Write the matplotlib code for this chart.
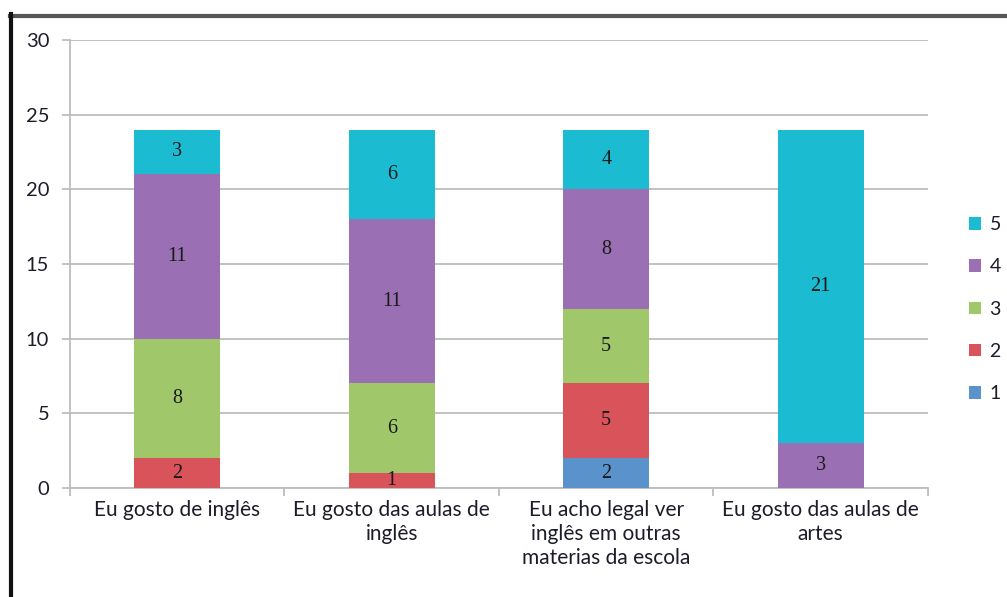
import numpy as np
import matplotlib.pyplot as plt
from matplotlib.lines import Line2D

# answers per statement, stacked from score 1 up to score 5
categories = ['Eu gosto de inglês', 'Eu gosto das aulas de\ninglês',
              'Eu acho legal ver\ninglês em outras\nmaterias da escola',
              'Eu gosto das aulas de\nartes']
score_1 = [0, 0, 2, 0]
score_2 = [2, 1, 5, 0]
score_3 = [8, 6, 5, 0]
score_4 = [11, 11, 8, 3]
score_5 = [3, 6, 4, 21]
series_names = ['1', '2', '3', '4', '5']
y_ticks = [0, 5, 10, 15, 20, 25, 30]

colors = ['#5a92cc', '#d9535a', '#a0c86a', '#9b6fb3', '#1bbcd2']
label_font = 'Lato'
text_color = '#1c1c2a'

fig = plt.figure(figsize=(10.07, 5.97), dpi=100)
ax = fig.add_axes([0.0695, 0.1826, 0.852, 0.7504])

x = np.arange(len(categories))
bottom = np.zeros(len(categories))
handles = []
for name, vals, col in zip(series_names, [score_1, score_2, score_3, score_4, score_5], colors):
    vals = np.array(vals, dtype=float)
    bars = ax.bar(x, vals, width=0.4, bottom=bottom, color=col, zorder=3)
    for xi, b, v in zip(x, bottom, vals):
        if v > 0:
            ax.text(xi, b + v / 2, '%d' % v, ha='center', va='center',
                    fontsize=14.5, family='Liberation Serif', color='#1a1a1a', zorder=4)
    bottom += vals
    handles.append(bars)

ax.set_xlim(-0.5, len(categories) - 0.5)
ax.set_ylim(0, 30)
ax.set_yticks(y_ticks)
ax.set_yticklabels([str(t) for t in y_ticks], family=label_font, fontsize=14.5,
                   color=text_color)
ax.yaxis.grid(True, color='#bdbdbd', linewidth=1.3, zorder=0)

ax.set_xticks(x)
ax.set_xticklabels(categories, family=label_font, fontsize=15, linespacing=1.25,
                   color=text_color)
ax.tick_params(axis='x', length=0, pad=9)
ax.set_xticks(np.arange(-0.5, len(categories)), minor=True)
ax.tick_params(axis='x', which='minor', length=6, color='#bdbdbd', width=1.3)
ax.tick_params(axis='y', length=6, color='#bdbdbd', width=1.3, pad=9)

for s in ['top', 'right']:
    ax.spines[s].set_visible(False)
for s in ['left', 'bottom']:
    ax.spines[s].set_color('#bdbdbd')
    ax.spines[s].set_linewidth(1.3)

leg = fig.legend(handles[::-1], series_names[::-1], loc='center left',
                 bbox_to_anchor=(0.945, 0.482), frameon=False,
                 prop={'family': label_font, 'size': 14},
                 handlelength=0.6, handleheight=0.6, handletextpad=0.45,
                 labelspacing=1.3)
for t in leg.get_texts():
    t.set_color(text_color)

# dark border along the top and left edges
fig.add_artist(Line2D([0.010, 1.0], [0.974, 0.974], color='#555555', linewidth=3,
                      transform=fig.transFigure))
fig.add_artist(Line2D([0.011, 0.011], [0.0, 0.976], color='#111111', linewidth=3,
                      transform=fig.transFigure))

fig.savefig('out.png', dpi=100, facecolor='white')
